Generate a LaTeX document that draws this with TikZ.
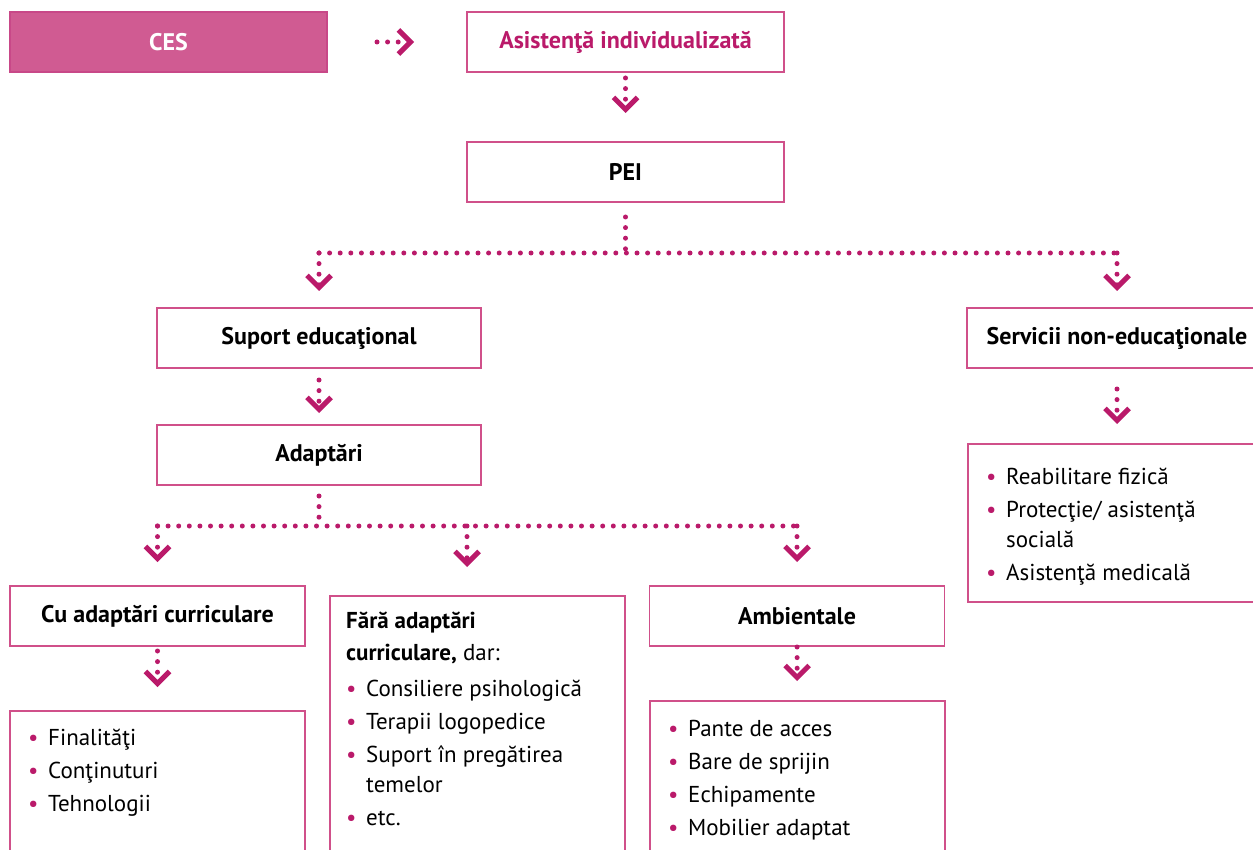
\documentclass[tikz,border=0pt]{standalone}
\usepackage{fontspec}
\setmainfont{PT Sans}
\usetikzlibrary{arrows.meta,positioning}
\definecolor{cesMag}{HTML}{BA1A6A}
\definecolor{cesFill}{HTML}{D05B92}
\definecolor{boxEdge}{HTML}{D0508A}
\newcommand\pbul{\makebox[20pt][l]{\textcolor{cesMag}{\textbullet}}}
\tikzset{
  headbox/.style={draw=boxEdge, line width=1.4pt, fill=white,
    minimum width=317pt, minimum height=60pt, inner sep=0pt, outer sep=0pt,
    font=\fontsize{24}{28}\selectfont\bfseries},
  cesbox/.style={headbox, fill=cesFill, draw=cesMag!80, text=white},
  listbox/.style={draw=boxEdge, line width=1.4pt, minimum width=295pt,
    minimum height=200pt, anchor=north west, inner sep=0pt, outer sep=0pt},
  listtext/.style={anchor=north west, inner sep=0pt, align=left,
    font=\fontsize{23}{30}\selectfont},
  dotline/.style={draw=cesMag, line width=5pt, line cap=round,
    dash pattern=on 0pt off 10.6pt},
  dotarc/.style={dotline, -{Straight Barb[length=12pt, width=24pt, line width=5pt]}},
}

\begin{document}
\begin{tikzpicture}[x=1pt, y=-1pt]
  \useasboundingbox (0,0) rectangle (1253,850);
  \clip (0,0) rectangle (1253,850);
  % top row
  \node[cesbox] (ces) at (168.5,42) {CES};
  \node[headbox, text=cesMag, right=140pt of ces] (asist) {Asistenţă individualizată};
  \node[headbox, below=70pt of asist] (pei) {PEI};
  % second level
  \node[headbox, minimum width=324pt] (sup) at (319,338) {Suport educaţional};
  \node[headbox, minimum width=324pt, below=57pt of sup] (adapt) {Adaptări};
  \node[headbox, minimum width=300pt] (serv) at (1117,338) {Servicii non-educaţionale};
  \node[headbox, minimum width=295pt] (cu) at (157.5,616) {Cu adaptări curriculare};
  \node[headbox, minimum width=295pt] (amb) at (797,616) {Ambientale};
  % lists
  \node[listbox, minimum width=298pt, minimum height=158pt] (servlist) at (968,444) {};
  \node[listbox] (culist) at (10,711) {};
  \node[listbox, minimum height=260pt] (fara) at (330,596) {};
  \node[listbox] (amblist) at (650,701) {};
  \node[listtext] (servtxt) at ([xshift=18pt, yshift=-24pt]servlist.north west)
    {\pbul Reabilitare fizică\\[3pt]
     \pbul Protecţie/ asistenţă\\
     \hspace*{20pt}socială\\[3pt]
     \pbul Asistenţă medicală};
  \node[listtext] (cutxt) at ([xshift=18pt, yshift=-18pt]culist.north west)
    {\pbul Finalităţi\\[3pt]
     \pbul Conţinuturi\\[3pt]
     \pbul Tehnologii};
  \node[listtext] (faratxt) at ([xshift=16pt, yshift=-16pt]fara.north west)
    {\textbf{Fără adaptări}\\[2pt]
     \textbf{curriculare,} dar:\\[6pt]
     \pbul Consiliere psihologică\\[3pt]
     \pbul Terapii logopedice\\[3pt]
     \pbul Suport în pregătirea\\
     \hspace*{20pt}temelor\\[3pt]
     \pbul etc.};
  \node[listtext] (ambtxt) at ([xshift=18pt, yshift=-19pt]amblist.north west)
    {\pbul Pante de acces\\[3pt]
     \pbul Bare de sprijin\\[3pt]
     \pbul Echipamente\\[3pt]
     \pbul Mobilier adaptat};
  % connectors
  \draw[dotarc, shorten <=50pt, shorten >=53pt] (ces) -- (asist);
  \draw[dotarc, shorten <=6pt, shorten >=29pt] (asist) -- (pei);
  \coordinate (peiJ) at (625.5,253);
  \coordinate (supJ) at (sup.north |- peiJ);
  \coordinate (servJ) at (serv.north |- peiJ);
  \draw[dotline, shorten <=15pt] (pei.south) -- (peiJ);
  \draw[dotline] (supJ) -- (servJ);
  \draw[dotarc, shorten >=17pt] (supJ) -- (sup.north);
  \draw[dotarc, shorten >=17pt] (servJ) -- (serv.north);
  \draw[dotarc, shorten <=12pt, shorten >=12pt] (sup) -- (adapt);
  \draw[dotarc, shorten <=21pt, shorten >=20pt] (serv) -- (servlist);
  \coordinate (adJ) at (319,526);
  \coordinate (cuJ) at (cu.north |- adJ);
  \coordinate (faraJ) at (467,526);
  \coordinate (ambJ) at (amb.north |- adJ);
  \draw[dotline, shorten <=11pt] (adapt.south) -- (adJ);
  \draw[dotline] (cuJ) -- (ambJ);
  \draw[dotarc, shorten >=24pt] (cuJ) -- (cu.north);
  \draw[dotarc, shorten >=29pt] (faraJ) -- (faraJ |- fara.north);
  \draw[dotarc, shorten >=24pt] (ambJ) -- (amb.north);
  \draw[dotarc, shorten <=5pt, shorten >=24pt] (cu) -- (culist);
  \draw[dotarc, shorten <=1pt, shorten >=20pt] (amb) -- (amblist);
\end{tikzpicture}
\end{document}
